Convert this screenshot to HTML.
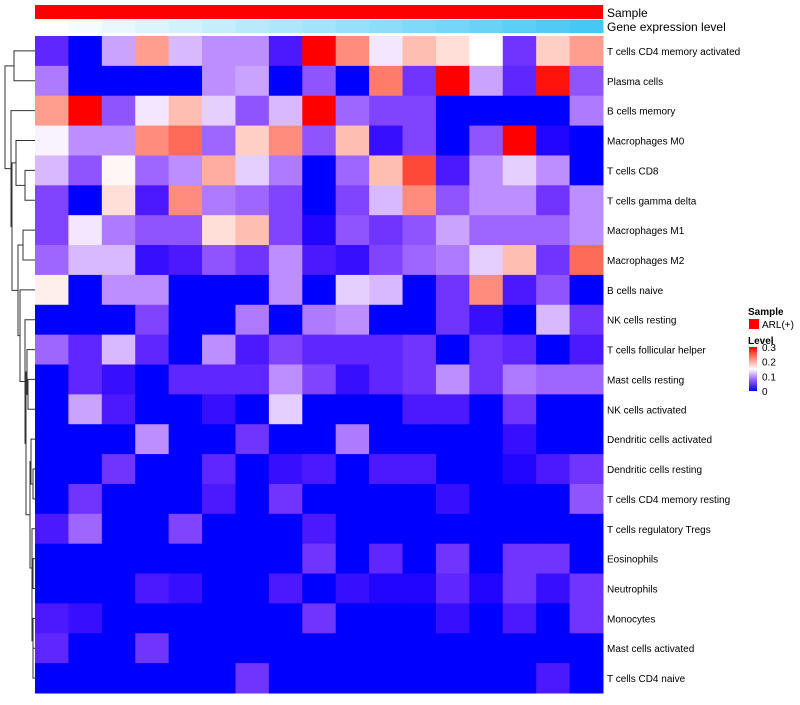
<!DOCTYPE html>
<html><head><meta charset="utf-8"><style>
body{margin:0;background:#fff;font-family:"Liberation Sans",sans-serif}
svg text{font-family:"Liberation Sans",sans-serif}
</style></head><body>
<svg id="chart" width="800" height="700" xmlns="http://www.w3.org/2000/svg"></svg>
<script>
const rowLabels=["T cells CD4 memory activated","Plasma cells","B cells memory","Macrophages M0","T cells CD8","T cells gamma delta","Macrophages M1","Macrophages M2","B cells naive","NK cells resting","T cells follicular helper","Mast cells resting","NK cells activated","Dendritic cells activated","Dendritic cells resting","T cells CD4 memory resting","T cells regulatory  Tregs","Eosinophils","Neutrophils","Monocytes","Mast cells activated","T cells CD4 naive"];
const values=[
[0.04,0,0.11,0.21,0.12,0.10,0.10,0.03,0.30,0.22,0.14,0.19,0.17,0.15,0.05,0.18,0.21],
[0.09,0,0,0,0,0.10,0.11,0,0.07,0,0.23,0.05,0.30,0.11,0.04,0.29,0.07],
[0.21,0.30,0.07,0.14,0.19,0.13,0.07,0.12,0.30,0.08,0.06,0.06,0,0,0,0,0.09],
[0.145,0.10,0.10,0.22,0.24,0.08,0.18,0.22,0.07,0.19,0.02,0.06,0,0.07,0.30,0.01,0],
[0.12,0.07,0.155,0.08,0.10,0.20,0.13,0.09,0,0.08,0.19,0.26,0.03,0.10,0.13,0.10,0],
[0.06,0,0.17,0.03,0.22,0.09,0.08,0.06,0,0.06,0.12,0.22,0.07,0.10,0.10,0.05,0.10],
[0.06,0.14,0.09,0.07,0.07,0.17,0.19,0.06,0.01,0.07,0.05,0.07,0.11,0.08,0.08,0.08,0.10],
[0.08,0.12,0.12,0.02,0.03,0.07,0.05,0.10,0.03,0.02,0.06,0.08,0.09,0.13,0.19,0.05,0.24],
[0.16,0,0.10,0.10,0,0,0,0.10,0,0.13,0.12,0,0.05,0.22,0.03,0.07,0],
[0,0,0,0.06,0,0,0.09,0,0.09,0.10,0,0,0.05,0.02,0,0.12,0.05],
[0.08,0.04,0.12,0.04,0,0.10,0.03,0.06,0.04,0.04,0.04,0.05,0,0.05,0.04,0,0.03],
[0,0.04,0.02,0,0.04,0.04,0.04,0.10,0.06,0.02,0.04,0.05,0.10,0.05,0.09,0.08,0.08],
[0,0.11,0.03,0,0,0.02,0,0.13,0,0,0,0.03,0.03,0,0.05,0,0],
[0,0,0,0.10,0,0,0.05,0,0,0.09,0,0,0,0,0.02,0,0],
[0,0,0.05,0,0,0.04,0,0.02,0.03,0,0.03,0.03,0,0,0.01,0.03,0.05],
[0,0.05,0,0,0,0.03,0,0.05,0,0,0,0,0.02,0,0,0,0.07],
[0.03,0.08,0,0,0.06,0,0,0,0.03,0,0,0,0,0,0,0,0],
[0,0,0,0,0,0,0,0,0.05,0,0.04,0,0.05,0,0.05,0.05,0],
[0,0,0,0.03,0.02,0,0,0.03,0,0.02,0.01,0.01,0.04,0.01,0.05,0.02,0.05],
[0.03,0.02,0,0,0,0,0,0,0.05,0,0,0,0.02,0,0.03,0,0.05],
[0.04,0,0,0.05,0,0,0,0,0,0,0,0,0,0,0,0,0],
[0,0,0,0,0,0,0.05,0,0,0,0,0,0,0,0,0.03,0]
];
const geneLevel=[0,1,2,3,4,5,6,7,8,9,10,11,12,13,14,15,16];
const legendTicks=[0,0.1,0.2,0.3];
const tree=[[0,1,14],[2,[[3,[4,5,25],16],[[6,7,23],[8,[9,[[10,[11,12,28],27],[[13,[14,15,33],31],[16,[[17,18,33],[19,[20,21,33],33],32],32],30],26],25],20],18],12],11],5];

const NS="http://www.w3.org/2000/svg";
const svg=document.getElementById('chart');
function mk(t,a,p){const e=document.createElementNS(NS,t);for(const k in a)e.setAttribute(k,a[k]);(p||svg).appendChild(e);return e;}
const X0=35,X1=603,Y0=36,Y1=693;
const nC=values[0].length,nR=rowLabels.length;
const cw=(X1-X0)/nC,rh=(Y1-Y0)/nR;
const xs=c=>X0+c*cw, ys=r=>Y0+r*rh;
const vmin=0,vmax=0.3;
function col(v){let t=Math.max(0,Math.min(1,(v-vmin)/(vmax-vmin)));let r,g,b;
 if(t<0.5){const u=t/0.5;r=255*Math.pow(u,0.75);g=255*Math.pow(u,1.45);b=255;}
 else{const u=(t-0.5)/0.5;r=255;g=255*Math.pow(1-u,0.95);b=255*Math.pow(1-u,1.15);}
 return `rgb(${Math.round(r)},${Math.round(g)},${Math.round(b)})`;}
function gcol(i){const u=i/(geneLevel.length-1);return `rgb(${Math.round(255-(255-69)*u)},${Math.round(255-(255-200)*u)},${Math.round(255-(255-245)*u)})`;}
const sb=mk('rect',{x:X0,y:5,width:X1-X0,height:14,fill:'#ff0000'});


geneLevel.forEach((g,i)=>{const r=mk('rect',{x:xs(i),y:20,width:cw+0.5,height:13,fill:gcol(g)});
 
 });
let t=mk('text',{x:607,y:17,'font-size':12,fill:'#000'});t.textContent='Sample';


t=mk('text',{x:607,y:31,'font-size':12,fill:'#000'});t.textContent='Gene expression level';


values.forEach((row,r)=>row.forEach((v,c)=>{const e=mk('rect',{x:xs(c),y:ys(r),width:cw+0.5,height:rh+0.5,fill:col(v)});
 
 }));
rowLabels.forEach((l,r)=>{const e=mk('text',{x:607,y:ys(r)+rh/2+4,'font-size':10,fill:'#000'});e.textContent=l;
 
 });
const dg=mk('g',{stroke:'#333','stroke-width':1,fill:'none'});


function draw(n){if(typeof n==='number')return {y:ys(n)+rh/2,x:X0};
 const a=draw(n[0]),b=draw(n[1]),x=n[2];
 mk('path',{d:`M${a.x},${a.y}H${x}V${b.y}H${b.x}`},dg);return {y:(a.y+b.y)/2,x:x};}
draw(tree);
t=mk('text',{x:748,y:315,'font-size':10,'font-weight':'bold'});t.textContent='Sample';


const lr=mk('rect',{x:749,y:319,width:10,height:10,fill:'#ff0000'});


t=mk('text',{x:762,y:328,'font-size':10});t.textContent='ARL(+)';


t=mk('text',{x:748,y:344,'font-size':10,'font-weight':'bold'});t.textContent='Level';


const LY0=391,LY1=347;
const defs=mk('defs',{});const lg=mk('linearGradient',{id:'lg',x1:0,y1:1,x2:0,y2:0},defs);
[0,0.25,0.5,0.75,1].forEach(o=>mk('stop',{offset:o,'stop-color':col(vmin+o*(vmax-vmin))},lg));
const cb=mk('rect',{x:749,y:LY1,width:8,height:LY0-LY1,fill:'url(#lg)'});


legendTicks.forEach(v=>{const y=LY0-(v-vmin)/(vmax-vmin)*(LY0-LY1);
 const e=mk('text',{x:762,y:y+4,'font-size':10});e.textContent=String(v);
 
 });
</script>
</body></html>
